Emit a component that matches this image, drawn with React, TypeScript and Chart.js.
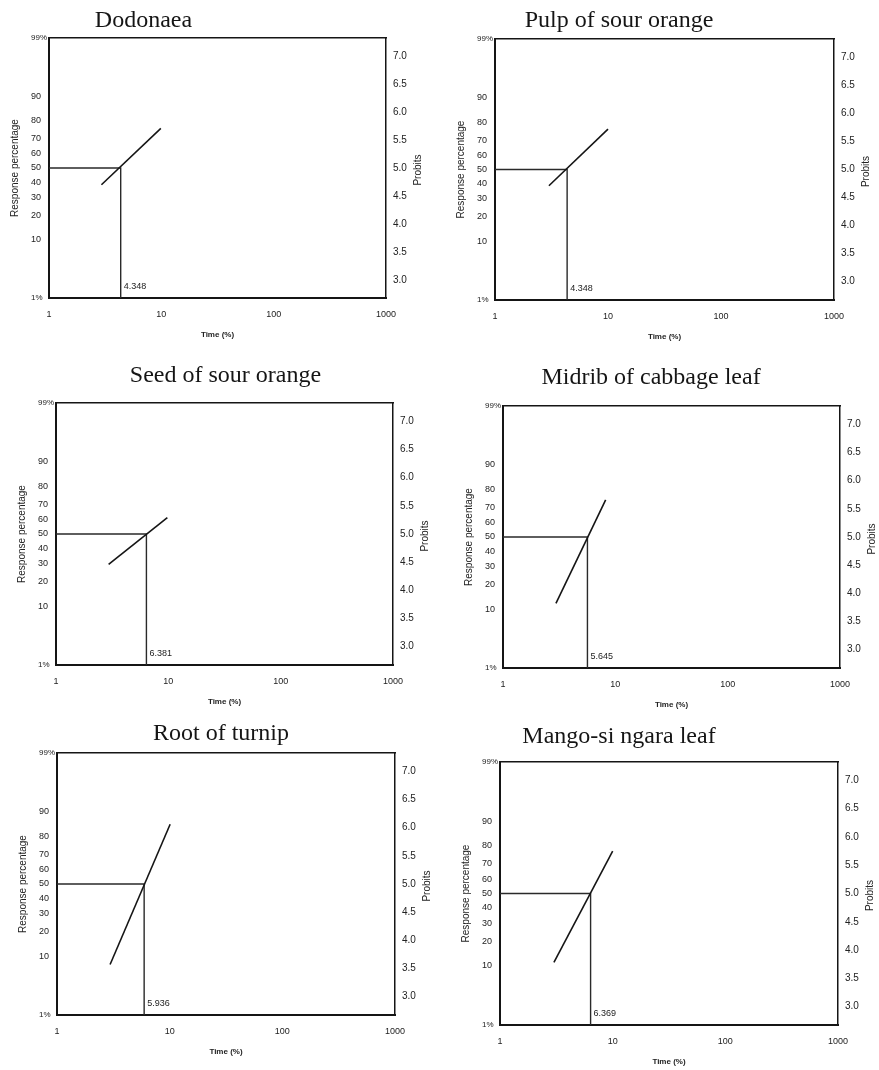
import React, { useEffect, useRef } from 'react';
import { Chart, registerables } from 'chart.js';

Chart.register(...registerables);

// ---------------- data ----------------
const panelTitles = [
  'Dodonaea',
  'Pulp of sour orange',
  'Seed of sour orange',
  'Midrib of cabbage leaf',
  'Root of turnip',
  'Mango-si ngara leaf',
];
const lt50Values = [4.348, 4.348, 6.381, 5.645, 5.936, 6.369];
const lt50Labels = ['4.348', '4.348', '6.381', '5.645', '5.936', '6.369'];
const fitStartTime = [2.93, 3.0, 2.94, 2.96, 2.96, 3.01];
const fitEndTime = [9.9, 10, 9.8, 8.2, 10.1, 10];
const fitStartProbit = [4.7, 4.71, 4.46, 3.82, 3.57, 3.78];
const fitEndProbit = [5.71, 5.72, 5.29, 5.66, 6.06, 5.75];

const timeTicks = [1, 10, 100, 1000];
const pctTickLabels = ['1%', '10', '20', '30', '40', '50', '60', '70', '80', '90', '99%'];
const pctTickProbits = [2.674, 3.718, 4.158, 4.476, 4.747, 5.0, 5.253, 5.524, 5.842, 6.282, 7.326];
const probitTicks = [3.0, 3.5, 4.0, 4.5, 5.0, 5.5, 6.0, 6.5, 7.0];
const probitMin = 2.674;
const probitMax = 7.326;

// ---------------- layout (page pixels of each plot area) ----------------
const panelLayout = [
  { l: 49, t: 38, r: 386, b: 298, tdx: 94.5, tdy: -11.3 },
  { l: 495, t: 39, r: 834, b: 300, tdx: 124, tdy: -12.3 },
  { l: 56, t: 403, r: 393, b: 665, tdx: 169.5, tdy: -20.8 },
  { l: 503, t: 406, r: 840, b: 668, tdx: 148, tdy: -22.3 },
  { l: 57, t: 753, r: 395, b: 1015, tdx: 164, tdy: -13 },
  { l: 500, t: 762, r: 838, b: 1025, tdx: 119, tdy: -19.3 },
];
const PAD_LEFT = 49;
const PAD_RIGHT = 44;
const PAD_TOP = 50;
const PAD_BOTTOM = 45;

const SANS = '"Liberation Sans", Arial, Helvetica, sans-serif';
const SERIF = '"Liberation Serif", "Times New Roman", serif';
const INK = '#151515';

const textPlugin = {
  id: 'panelText',
  afterDraw(chart: any, _args: any, o: any) {
    const { ctx, chartArea } = chart;
    const { left, top, right, bottom } = chartArea;
    ctx.save();
    ctx.fillStyle = INK;
    // panel title
    ctx.font = `24px ${SERIF}`;
    ctx.textAlign = 'center';
    ctx.textBaseline = 'alphabetic';
    ctx.fillText(o.title, left + o.tdx, top + o.tdy);
    // left axis title
    ctx.fillStyle = '#222';
    ctx.font = `10px ${SANS}`;
    ctx.textBaseline = 'middle';
    ctx.save();
    ctx.translate(left - 34, (top + bottom) / 2);
    ctx.rotate(-Math.PI / 2);
    ctx.fillText('Response percentage', 0, 0);
    ctx.restore();
    // right axis title
    ctx.save();
    ctx.translate(right + 32.5, (top + bottom) / 2 + 2);
    ctx.rotate(-Math.PI / 2);
    ctx.fillText('Probits', 0, 0);
    ctx.restore();
    // LT50 label
    const px = chart.scales.x.getPixelForValue(o.lt50);
    ctx.font = `9px ${SANS}`;
    ctx.textAlign = 'left';
    ctx.fillText(o.lt50Label, px + 3, bottom - 11);
    ctx.restore();
  },
};

function Panel({ i }: { i: number }) {
  const ref = useRef<HTMLCanvasElement | null>(null);
  const p = panelLayout[i];
  const w = p.r - p.l + PAD_LEFT + PAD_RIGHT;
  const h = p.b - p.t + PAD_TOP + PAD_BOTTOM;

  useEffect(() => {
    if (!ref.current) return;
    const chart = new Chart(ref.current, {
      type: 'line',
      data: {
        datasets: [
          {
            data: [
              { x: fitStartTime[i], y: fitStartProbit[i] },
              { x: fitEndTime[i], y: fitEndProbit[i] },
            ],
            borderColor: INK,
            borderWidth: 1.6,
            pointRadius: 0,
            xAxisID: 'x',
            yAxisID: 'y',
          },
          {
            data: [
              { x: timeTicks[0], y: 5 },
              { x: lt50Values[i], y: 5 },
              { x: lt50Values[i], y: probitMin },
            ],
            borderColor: '#2a2a2a',
            borderWidth: 1.4,
            pointRadius: 0,
            xAxisID: 'x',
            yAxisID: 'y',
          },
        ],
      },
      options: {
        animation: false,
        responsive: false,
        events: [],
        layout: {
          autoPadding: false,
          padding: { left: PAD_LEFT - 18, top: PAD_TOP, right: 0, bottom: 0 },
        },
        plugins: {
          legend: { display: false },
          tooltip: { enabled: false },
          panelText: {
            title: panelTitles[i],
            tdx: p.tdx,
            tdy: p.tdy,
            lt50: lt50Values[i],
            lt50Label: lt50Labels[i],
          },
        } as any,
        scales: {
          x: {
            type: 'logarithmic',
            position: 'bottom',
            min: 1,
            max: 1000,
            grid: { display: false, drawTicks: false },
            border: { display: true, color: INK, width: 2 },
            afterBuildTicks: (s: any) => {
              s.ticks = timeTicks.map((v) => ({ value: v }));
            },
            afterFit: (s: any) => {
              s.height = PAD_BOTTOM;
            },
            ticks: {
              padding: 11,
              color: '#222',
              autoSkip: false,
              maxRotation: 0,
              font: { family: SANS, size: 9 },
              callback: (v: any) => String(v),
            },
            title: {
              display: true,
              text: 'Time (%)',
              color: '#222',
              font: { family: SANS, size: 8, weight: 'bold' },
              padding: { top: 0, bottom: 3.7 },
            },
          },
          x2: {
            type: 'linear',
            position: 'top',
            display: true,
            grid: { display: false, drawTicks: false },
            border: { display: true, color: INK, width: 1.5 },
            ticks: { display: false },
            afterFit: (s: any) => {
              s.height = 0;
            },
          },
          y: {
            type: 'linear',
            position: 'left',
            min: probitMin,
            max: probitMax,
            grid: { display: false, drawTicks: false },
            border: { display: true, color: INK, width: 2 },
            afterBuildTicks: (s: any) => {
              s.ticks = pctTickProbits.map((v) => ({ value: v }));
            },
            afterFit: (s: any) => {
              s.width = 18;
            },
            ticks: {
              crossAlign: 'far',
              padding: 0,
              color: '#222',
              autoSkip: false,
              font: (c: any) => ({
                family: SANS,
                size: c.index === 0 || c.index === pctTickLabels.length - 1 ? 8 : 9,
              }),
              callback: (_v: any, idx: number) => pctTickLabels[idx],
            },
          },
          y2: {
            type: 'linear',
            position: 'right',
            min: probitMin,
            max: probitMax,
            grid: { display: false, drawTicks: false },
            border: { display: true, color: INK, width: 1.5 },
            afterBuildTicks: (s: any) => {
              s.ticks = probitTicks.map((v) => ({ value: v }));
            },
            afterFit: (s: any) => {
              s.width = PAD_RIGHT;
            },
            ticks: {
              padding: 7,
              color: '#222',
              autoSkip: false,
              font: { family: SANS, size: 10 },
              callback: (v: any) => Number(v).toFixed(1),
            },
          },
        },
      } as any,
      plugins: [textPlugin as any],
    });
    return () => chart.destroy();
  }, [i]);

  return (
    <canvas
      ref={ref}
      width={w}
      height={h}
      style={{
        position: 'absolute',
        left: p.l - PAD_LEFT,
        top: p.t - PAD_TOP,
        width: w,
        height: h,
      }}
    />
  );
}

export default function App() {
  return (
    <div
      style={{
        position: 'absolute',
        left: 0,
        top: 0,
        width: 879,
        height: 1070,
        overflow: 'hidden',
        background: '#fff',
      }}
    >
      {panelTitles.map((_, i) => (
        <Panel key={i} i={i} />
      ))}
    </div>
  );
}
